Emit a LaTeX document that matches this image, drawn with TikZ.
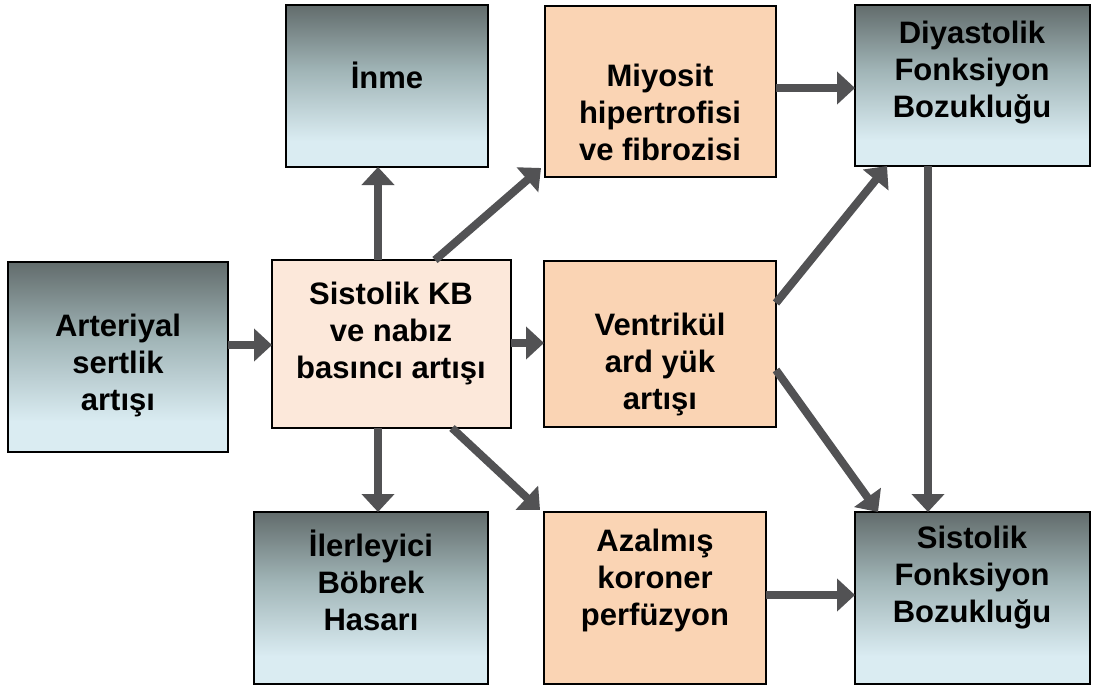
\documentclass[tikz,border=0pt]{standalone}
\usepackage{fontspec}
\setmainfont{Liberation Sans}
\usetikzlibrary{arrows.meta}
\definecolor{glight}{RGB}{218,236,242}
\definecolor{gmid}{RGB}{160,180,182}
\definecolor{gdark}{RGB}{98,108,108}
\definecolor{kbfill}{RGB}{252,232,218}
\definecolor{orfill}{RGB}{250,212,180}
\definecolor{arrcol}{RGB}{82,82,84}
\pgfdeclareverticalshading{gshade}{100bp}{color(0bp)=(glight); color(25bp)=(glight); color(33bp)=(glight); color(55bp)=(gmid); color(75bp)=(gdark); color(100bp)=(gdark)}
\begin{document}
\begin{tikzpicture}[x=1pt,y=-1pt,
  box/.style={rectangle, draw=black, line width=1.3pt, inner sep=0pt, outer sep=0pt},
  gbox/.style={box, shade, shading=gshade},
  kbbox/.style={box, fill=kbfill},
  obox/.style={box, fill=orfill},
  txt/.style={align=center, inner sep=0pt, font=\fontsize{31}{37}\selectfont\bfseries},
  arr/.style={draw=arrcol, line width=8pt, -{Triangle[width=32pt,length=18pt]}, arrcol}
]
\useasboundingbox (0,0) rectangle (1093,686);
% boxes
\node[gbox, minimum width=220, minimum height=190] (art) at (118,357) {};
\node[kbbox, minimum width=239, minimum height=168] (kb) at (391.5,344) {};
\node[gbox, minimum width=202, minimum height=162] (inme) at (387,86) {};
\node[obox, minimum width=231, minimum height=171] (miy) at (660.5,91.5) {};
\node[gbox, minimum width=235, minimum height=161] (diy) at (972.5,85.5) {};
\node[obox, minimum width=232, minimum height=166] (ven) at (660,344) {};
\node[gbox, minimum width=234, minimum height=172] (ile) at (371,598) {};
\node[obox, minimum width=222, minimum height=172] (aza) at (655,598) {};
\node[gbox, minimum width=235, minimum height=172] (sis) at (972.5,598) {};
% texts
\node[txt] (art-t) at (118,365) {Arteriyal\\sertlik\\artışı};
\node[txt] (kb-t) at (391,333) {Sistolik KB\\ve nabız\\basıncı artışı};
\node[txt] (inme-t) at (387,75) {İnme};
\node[txt] (miy-t) at (660,112) {Miyosit\\hipertrofisi\\ve fibrozisi};
\node[txt] (diy-t) at (972,73) {Diyastolik\\Fonksiyon\\Bozukluğu};
\node[txt] (ven-t) at (660,364) {Ventrikül\\ard yük\\artışı};
\node[txt] (ile-t) at (371,580) {İlerleyici\\Böbrek\\Hasarı};
\node[txt] (aza-t) at (655,580) {Azalmış\\koroner\\perfüzyon};
\node[txt] (sis-t) at (972,578) {Sistolik\\Fonksiyon\\Bozukluğu};
% arrows
\draw[arr] (art.east |- 0,345) -- (kb.west |- 0,345);
\draw[arr] (kb.north -| 378,0) -- (inme.south -| 378,0);
\draw[arr] (kb.north -| 435,0) -- ([shift={(-4,-9)}]miy.south west);
\draw[arr] (kb.east |- 0,343) -- (ven.west |- 0,343);
\draw[arr] (kb.south -| 378,0) -- (ile.north -| 378,0);
\draw[arr] (kb.south -| 452,0) -- ([shift={(-4,-2)}]aza.north west);
\draw[arr] (miy.east |- 0,88) -- (diy.west |- 0,88);
\draw[arr] (ven.east |- 0,303) -- (diy.south -| 887,0);
\draw[arr] (ven.east |- 0,370) -- (sis.north -| 878,0);
\draw[arr] (diy.south -| 928,0) -- (sis.north -| 928,0);
\draw[arr] (aza.east |- 0,595) -- (sis.west |- 0,595);
\end{tikzpicture}
\end{document}
